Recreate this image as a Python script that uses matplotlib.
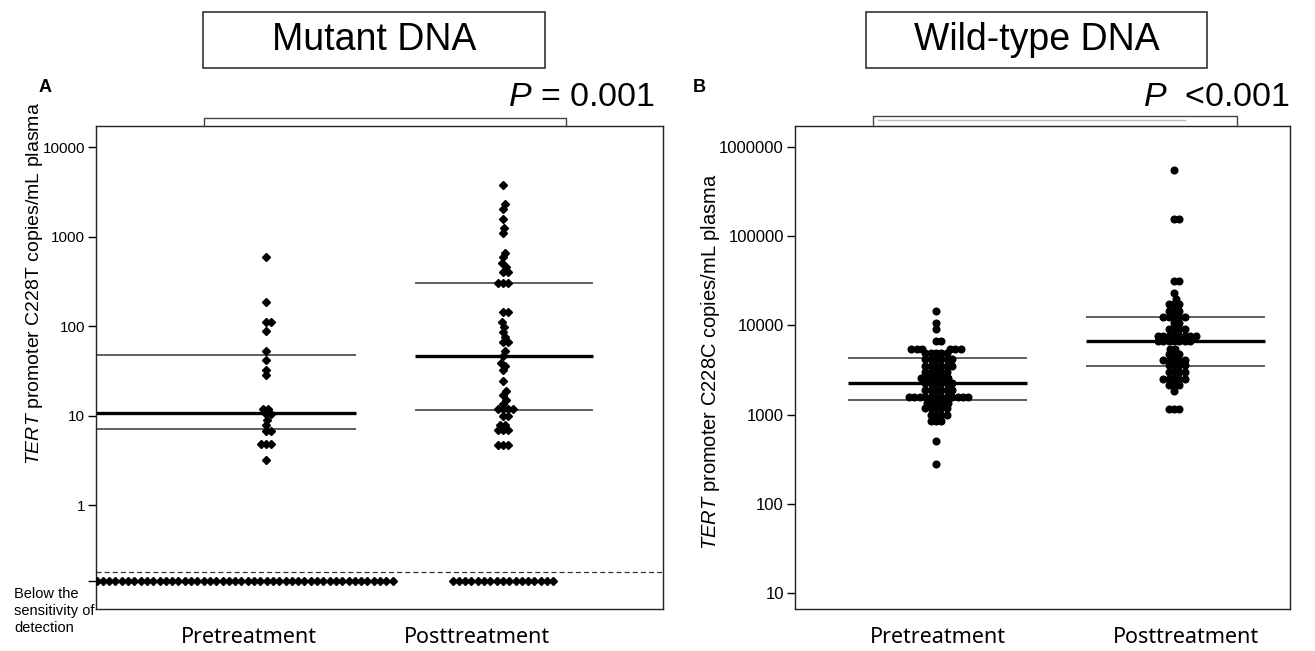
import numpy as np
import matplotlib
matplotlib.use("Agg")
import matplotlib.pyplot as plt
from matplotlib.patches import Rectangle
from matplotlib.lines import Line2D

plt.rcParams['font.family'] = ['Liberation Sans', 'DejaVu Sans']
plt.rcParams['mathtext.fontset'] = 'custom'
plt.rcParams['mathtext.rm'] = 'Liberation Sans'
plt.rcParams['mathtext.it'] = 'Liberation Sans:italic'

W, H = 1315, 651

groups = ["Pretreatment", "Posttreatment"]

# A: mutant DNA, copies/mL plasma for each detectable sample
mut_pre = [590, 187, 112, 112, 89, 53, 42, 32, 28, 11.7, 11.7, 10.4, 10.4,
           8.9, 7.8, 6.8, 6.8, 4.8, 4.8, 4.8, 3.2]
mut_post = [3760, 2300, 2040, 1560, 1240, 1090, 660, 585, 500, 455, 405, 405,
            304, 304, 304, 145, 145, 111, 98, 86, 76, 67, 67, 52, 46, 39, 36,
            32, 24.5, 19, 17, 15, 13.4, 11.7, 11.7, 11.7, 11.7, 10, 10, 7.8,
            7.8, 6.9, 6.9, 6.9, 4.7, 4.7, 4.7]
# samples below the sensitivity of detection
mut_pre_below = 48
mut_post_below = 17
mut_cutoff = 0.18
mut_below_level = 0.14
# lower quartile, median, upper quartile
mut_pre_q = [7.1, 10.7, 47]
mut_post_q = [11.5, 46, 302]

# B: wild-type DNA, values and how many samples share each value
wt_pre_vals = [14500, 10700, 9200, 6700, 5500, 4900, 4200, 3500, 3000, 2570,
               2250, 1880, 1590, 1350, 1180, 1000, 840, 510, 280]
wt_pre_counts = [1, 1, 1, 2, 6, 5, 6, 6, 5, 6, 6, 6, 12, 5, 5, 4, 3, 1, 1]
wt_post_vals = [552000, 155000, 31600, 23300, 19600, 17300, 14500, 12300,
                10600, 9000, 7600, 6600, 5500, 4800, 4100, 3550, 3030, 2500,
                2150, 1860, 1150]
wt_post_counts = [1, 2, 2, 1, 1, 3, 3, 5, 2, 4, 8, 7, 2, 3, 5, 4, 4, 5, 3, 1, 3]
wt_pre_q = [1450, 2250, 4270]
wt_post_q = [3470, 6600, 12300]

mut_ticks = [10000, 1000, 100, 10, 1]
wt_ticks = [1000000, 100000, 10000, 1000, 100, 10]


def fx(x):
    return x / W


def fy(y):
    return 1 - y / H


def swarm(ax, xc, values, d):
    # simple beeswarm: offsets in pixels, then back to data units
    ypix = np.array([ax.transData.transform((0, v))[1] for v in values])
    ppu = ax.bbox.width / (ax.get_xlim()[1] - ax.get_xlim()[0])
    xs = np.zeros(len(values))
    px, py = [], []
    for i in np.argsort(ypix):
        y = ypix[i]
        cands = [0.0]
        for a, b in zip(px, py):
            dy = abs(b - y)
            if dy < d:
                dx = np.sqrt(d * d - dy * dy)
                cands += [a + dx, a - dx]
        cands.sort(key=abs)
        for c in cands:
            if all((c - a) ** 2 + (y - b) ** 2 >= d * d - 1e-6 for a, b in zip(px, py)):
                break
        xs[i] = c
        px.append(c)
        py.append(y)
    return xc + xs / ppu


def quart_lines(ax, x0, x1, q):
    ax.hlines([q[0], q[2]], x0, x1, color="#333333", lw=1.1, zorder=2)
    ax.hlines(q[1], x0, x1, color="black", lw=2.4, zorder=2)


fig = plt.figure(figsize=(W / 100, H / 100), dpi=100)

top, bot = 126, 609
axA = fig.add_axes([fx(96), fy(bot), fx(663 - 96), (bot - top) / H])
axB = fig.add_axes([fx(795), fy(bot), fx(1290 - 795), (bot - top) / H])

for ax in (axA, axB):
    ax.set_yscale("log")
    for s in ax.spines.values():
        s.set_linewidth(1.0)
        s.set_color("#222222")
    ax.minorticks_off()
    ax.tick_params(axis="x", length=0, pad=13, labelsize=15.5)
    ax.tick_params(axis="y", length=6, width=1, pad=2)
axA.tick_params(axis="y", labelsize=11)
axB.tick_params(axis="y", labelsize=12)

# ---- panel A
axA.set_xlim(-0.717, 1.675)
axA.set_ylim(0.0689, 17170)
axA.set_yticks(mut_ticks + [mut_below_level])
axA.set_yticklabels([str(t) for t in mut_ticks] + [""])
axA.minorticks_off()
axA.set_xticks([-0.07, 0.89])
axA.set_xticklabels(groups, family=["Noto Sans", "DejaVu Sans"])

quart_lines(axA, -0.8, 0.38, mut_pre_q)
quart_lines(axA, 0.63, 1.38, mut_post_q)
axA.axhline(mut_cutoff, color="#333333", lw=0.9, ls=(0, (4, 2.5)))

xa = swarm(axA, 0, mut_pre, 5.2)
axA.plot(xa, mut_pre, "D", color="black", ms=3.6, zorder=3)
xb = swarm(axA, 1, mut_post, 5.2)
axA.plot(xb, mut_post, "D", color="black", ms=3.6, zorder=3)

ppuA = axA.bbox.width / (1.675 + 0.717)
step = 6.3 / ppuA
for xc, n in ((-0.09, mut_pre_below), (1.0, mut_post_below)):
    xr = xc + (np.arange(n) - (n - 1) / 2) * step
    axA.plot(xr, [mut_below_level] * n, "D", color="black", ms=3.6, zorder=3)

# ---- panel B
axB.set_xlim(-0.592, 1.487)
axB.set_ylim(6.6, 1.72e6)
axB.set_yticks(wt_ticks)
axB.set_yticklabels([str(t) for t in wt_ticks])
axB.minorticks_off()
axB.set_xticks([0.01, 1.05])
axB.set_xticklabels(groups, family=["Noto Sans", "DejaVu Sans"])

quart_lines(axB, -0.37, 0.382, wt_pre_q)
quart_lines(axB, 0.63, 1.382, wt_post_q)

pre_b = np.repeat(wt_pre_vals, wt_pre_counts)
post_b = np.repeat(wt_post_vals, wt_post_counts)
axB.plot(swarm(axB, 0, pre_b, 5.4), pre_b, "o", color="black", ms=4.8, zorder=3)
axB.plot(swarm(axB, 1, post_b, 5.4), post_b, "o", color="black", ms=4.8, zorder=3)

# ---- titles, brackets and labels in figure space
for x0, x1, label in ((203, 545, "Mutant DNA"), (866, 1207, "Wild-type DNA")):
    fig.patches.append(Rectangle((fx(x0), fy(68)), fx(x1 - x0), (68 - 12) / H,
                                 transform=fig.transFigure, fill=False,
                                 ec="#222222", lw=1.1))
    fig.text(fx((x0 + x1) / 2), fy(40), label, ha="center", va="center",
             fontsize=27)

fig.text(fx(45), fy(88), "A", ha="center", va="center", fontsize=13,
         fontweight="bold")
fig.text(fx(699), fy(88), "B", ha="center", va="center", fontsize=13,
         fontweight="bold")

fig.text(fx(655), fy(97), "$P$ = 0.001", ha="right", va="center", fontsize=24.5)
fig.text(fx(1290), fy(97), "$P$  <0.001", ha="right", va="center", fontsize=24.5)

for x0, x1, yb in ((204, 566, 118), (873, 1237, 116)):
    fig.lines.append(Line2D([fx(x0), fx(x0), fx(x1), fx(x1)],
                            [fy(126), fy(yb), fy(yb), fy(126)],
                            transform=fig.transFigure, color="#444444", lw=1.0))
fig.lines.append(Line2D([fx(878), fx(1185)], [fy(119.5), fy(119.5)],
                        transform=fig.transFigure, color="#bbbbbb", lw=1.0))

fig.text(fx(35), fy(284), "$TERT$ promoter C228T copies/mL plasma",
         rotation=90, ha="center", va="center", fontsize=14)
fig.text(fx(711), fy(362), "$TERT$ promoter C228C copies/mL plasma",
         rotation=90, ha="center", va="center", fontsize=14.5)

fig.text(fx(14), fy(587), "Below the\nsensitivity of\ndetection", ha="left",
         va="top", fontsize=10.5, linespacing=1.25)

fig.savefig("out.png", dpi=100)
